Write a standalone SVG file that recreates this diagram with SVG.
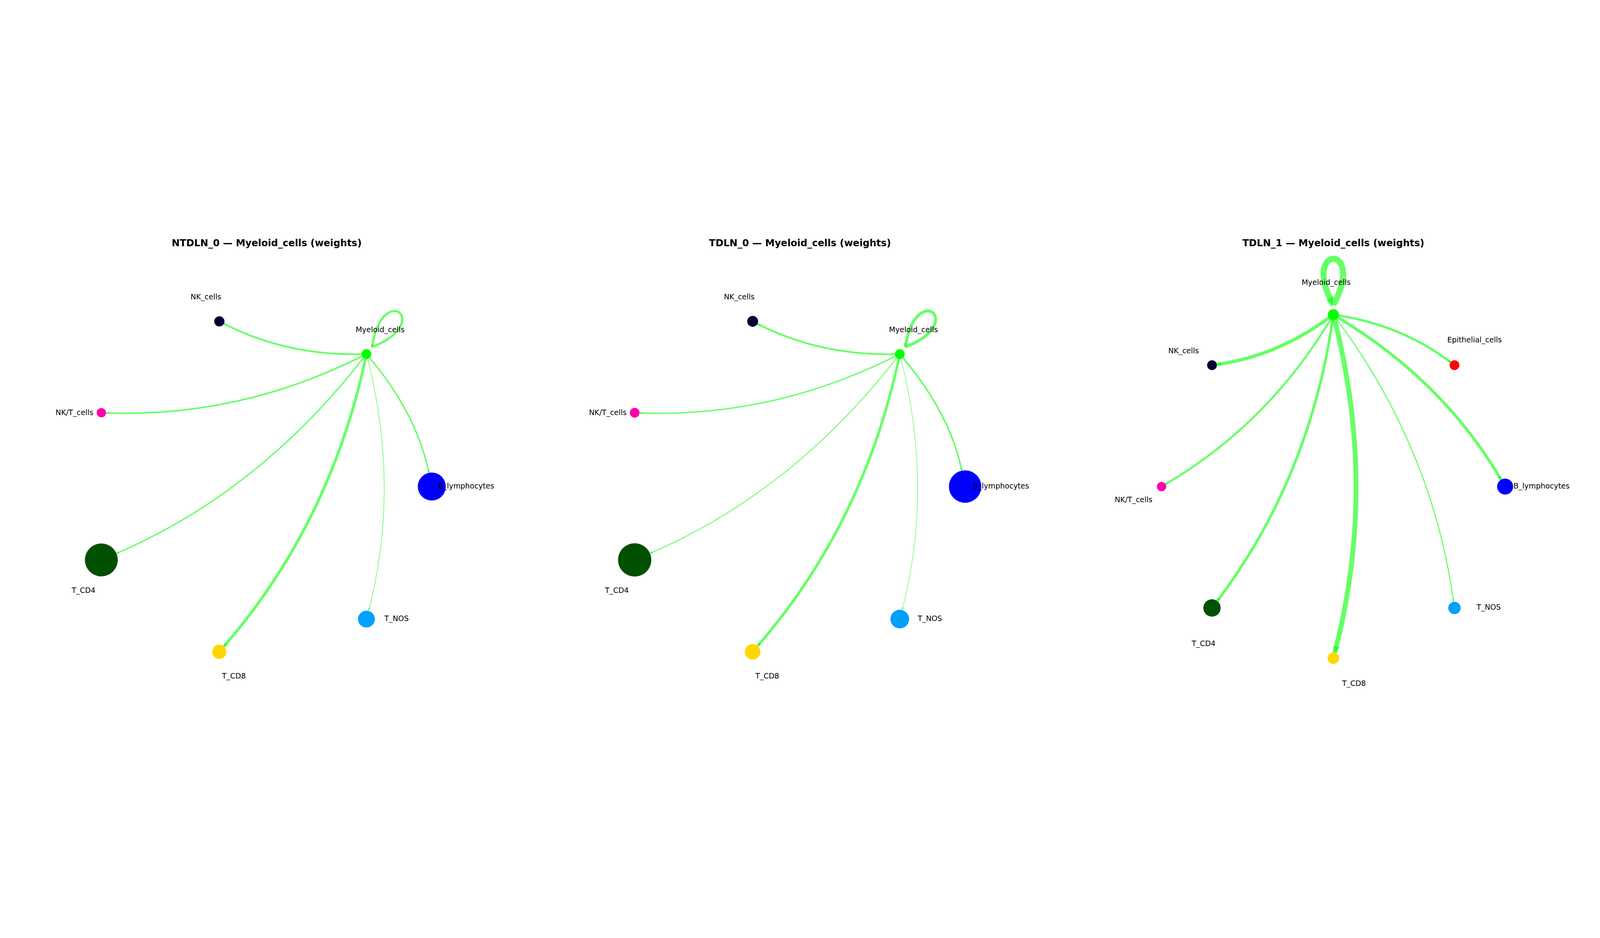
<svg xmlns="http://www.w3.org/2000/svg" width="7200" height="2400" viewBox="0 0 7200 2400">
<style>
svg{width:100vw;height:100vh}
.e{fill:none;stroke:#00ff00;stroke-opacity:0.6;stroke-linecap:butt}
.t{font-family:"DejaVu Sans","Liberation Sans",sans-serif;font-size:33.3px;fill:#000;text-anchor:middle}
.ttl{font-family:"DejaVu Sans","Liberation Sans",sans-serif;font-size:43px;font-weight:bold;fill:#000;text-anchor:middle}
</style>
<defs>
<marker id="ah" markerUnits="userSpaceOnUse" viewBox="0 0 12 10" markerWidth="12" markerHeight="10" refX="12" refY="5" orient="auto"><path d="M0,0L12,5L0,10z" fill="#00ff00" fill-opacity="0.6"/></marker>
<marker id="ahb" markerUnits="strokeWidth" viewBox="0 0 10 10" markerWidth="1.3" markerHeight="1.3" refX="10" refY="5" orient="auto"><path d="M0,0L10,5L0,10z" fill="#00ff00" fill-opacity="0.6"/></marker>
</defs>
<rect x="0" y="0" width="7200" height="2400" fill="#ffffff"/>
<g id="titles">
<text class="ttl" x="1200" y="198">NTDLN_0 — Myeloid_cells (weights)</text>
<text class="ttl" x="3600" y="198">TDLN_0 — Myeloid_cells (weights)</text>
<text class="ttl" x="6000" y="198">TDLN_1 — Myeloid_cells (weights)</text>
</g>
<g id="connectors">
<!-- panel 1 -->
<path class="e" stroke-width="8" marker-end="url(#ah)" d="M1649,683 Q1298.9,695.6 1007.5,546.5"/>
<path class="e" stroke-width="7" marker-end="url(#ah)" d="M1649,683 Q1086.8,970.1 477,947.8"/>
<path class="e" stroke-width="6.5" marker-end="url(#ah)" d="M1649,683 Q1873.5,942.8 1930.2,1217.3"/>
<path class="e" stroke-width="6" marker-end="url(#ah)" d="M1649,683 Q1172.9,1301.1 524,1579.8"/>
<path class="e" stroke-width="12.5" marker-end="url(#ahb)" d="M1649,683 Q1492.1,1438.6 1007.9,1997.8"/>
<path class="e" stroke-width="3" marker-end="url(#ah)" d="M1649,683 Q1804,1279 1658.6,1838.2"/>
<path class="e" stroke-width="10" marker-end="url(#ahb)" transform="translate(1649,683) rotate(38.5)" d="M0,-40 C152,-304 -152,-304 0,-40"/>
<!-- panel 2 -->
<path class="e" stroke-width="8" marker-end="url(#ah)" d="M4049,683 Q3698.9,695.6 3408.8,547.2"/>
<path class="e" stroke-width="6" marker-end="url(#ah)" d="M4049,683 Q3486.8,970.1 2878,947.8"/>
<path class="e" stroke-width="7" marker-end="url(#ah)" d="M4049,683 Q4273.5,942.8 4328.2,1207.5"/>
<path class="e" stroke-width="4" marker-end="url(#ah)" d="M4049,683 Q3572.9,1301.1 2924.9,1579.4"/>
<path class="e" stroke-width="12" marker-end="url(#ahb)" d="M4049,683 Q3892.1,1438.6 3409.9,1995.5"/>
<path class="e" stroke-width="2.5" marker-end="url(#ah)" d="M4049,683 Q4204,1279 4059.6,1834.3"/>
<path class="e" stroke-width="13" marker-end="url(#ahb)" transform="translate(4049,683) rotate(38.5)" d="M0,-40 C152,-304 -152,-304 0,-40"/>
<!-- panel 3 -->
<path class="e" stroke-width="15" marker-end="url(#ahb)" d="M6000,506 Q5756.5,690.5 5475.8,729.9"/>
<path class="e" stroke-width="10" marker-end="url(#ahb)" d="M6000,506 Q6302,548.6 6527.5,719.7"/>
<path class="e" stroke-width="9" marker-end="url(#ah)" d="M6000,506 Q5714,993 5245.1,1268.4"/>
<path class="e" stroke-width="13" marker-end="url(#ahb)" d="M6000,506 Q6487,792 6754.8,1248"/>
<path class="e" stroke-width="12" marker-end="url(#ahb)" d="M6000,506 Q5898.5,1236.5 5477.5,1793.9"/>
<path class="e" stroke-width="22" marker-end="url(#ahb)" d="M6000,506 Q6200.9,1278.5 6006.5,2025.8"/>
<path class="e" stroke-width="5" marker-end="url(#ah)" d="M6000,506 Q6444,1094.6 6541.2,1797.3"/>
<path class="e" stroke-width="27" marker-end="url(#ahb)" d="M6000,462 C6152,185 5848,185 6000,462"/>
</g>
<!-- panel 1 nodes -->
<g id="p1_Myeloid_cells"><circle cx="1649" cy="683" r="22" fill="#00ff00"/><text class="t" x="1710.5" y="585">Myeloid_cells</text></g>
<g id="p1_NK_cells"><circle cx="987" cy="536" r="23" fill="#000033"/><text class="t" x="926.5" y="437">NK_cells</text></g>
<g id="p1_NKT_cells"><circle cx="456" cy="947" r="21" fill="#ff00aa"/><text class="t" x="335" y="957">NK/T_cells</text></g>
<g id="p1_B_lymphocytes"><circle cx="1943" cy="1279" r="63" fill="#0000ff"/><text class="t" x="2097.5" y="1288">B_lymphocytes</text></g>
<g id="p1_T_CD4"><circle cx="456" cy="1609" r="74" fill="#005000"/><text class="t" x="376" y="1758">T_CD4</text></g>
<g id="p1_T_CD8"><circle cx="987" cy="2022" r="32" fill="#ffd700"/><text class="t" x="1052.5" y="2143">T_CD8</text></g>
<g id="p1_T_NOS"><circle cx="1649" cy="1875" r="38" fill="#00a0ff"/><text class="t" x="1784.5" y="1883">T_NOS</text></g>
<!-- panel 2 nodes -->
<g id="p2_Myeloid_cells"><circle cx="4049" cy="683" r="22" fill="#00ff00"/><text class="t" x="4110.5" y="585">Myeloid_cells</text></g>
<g id="p2_NK_cells"><circle cx="3387" cy="536" r="24.5" fill="#000033"/><text class="t" x="3326.5" y="437">NK_cells</text></g>
<g id="p2_NKT_cells"><circle cx="2856" cy="947" r="22" fill="#ff00aa"/><text class="t" x="2735" y="957">NK/T_cells</text></g>
<g id="p2_B_lymphocytes"><circle cx="4343" cy="1279" r="73" fill="#0000ff"/><text class="t" x="4504.5" y="1288">B_lymphocytes</text></g>
<g id="p2_T_CD4"><circle cx="2856" cy="1609" r="75" fill="#005000"/><text class="t" x="2776" y="1758">T_CD4</text></g>
<g id="p2_T_CD8"><circle cx="3387" cy="2022" r="35" fill="#ffd700"/><text class="t" x="3452.5" y="2143">T_CD8</text></g>
<g id="p2_T_NOS"><circle cx="4049" cy="1875" r="42" fill="#00a0ff"/><text class="t" x="4184.5" y="1883">T_NOS</text></g>
<!-- panel 3 nodes -->
<g id="p3_Myeloid_cells"><circle cx="6000" cy="506" r="25" fill="#00ff00"/><text class="t" x="5967.5" y="372">Myeloid_cells</text></g>
<g id="p3_NK_cells"><circle cx="5454" cy="733" r="22" fill="#000033"/><text class="t" x="5326" y="680">NK_cells</text></g>
<g id="p3_Epithelial_cells"><circle cx="6545" cy="733" r="22" fill="#ff0000"/><text class="t" x="6635.6" y="631">Epithelial_cells</text></g>
<g id="p3_NKT_cells"><circle cx="5227" cy="1279" r="21" fill="#ff00aa"/><text class="t" x="5101" y="1350">NK/T_cells</text></g>
<g id="p3_B_lymphocytes"><circle cx="6773" cy="1279" r="36" fill="#0000ff"/><text class="t" x="6937" y="1288">B_lymphocytes</text></g>
<g id="p3_T_CD4"><circle cx="5454" cy="1825" r="39" fill="#005000"/><text class="t" x="5416" y="1997">T_CD4</text></g>
<g id="p3_T_CD8"><circle cx="6000" cy="2051" r="26" fill="#ffd700"/><text class="t" x="6093" y="2176">T_CD8</text></g>
<g id="p3_T_NOS"><circle cx="6545" cy="1825" r="28" fill="#00a0ff"/><text class="t" x="6699" y="1833">T_NOS</text></g>
</svg>
